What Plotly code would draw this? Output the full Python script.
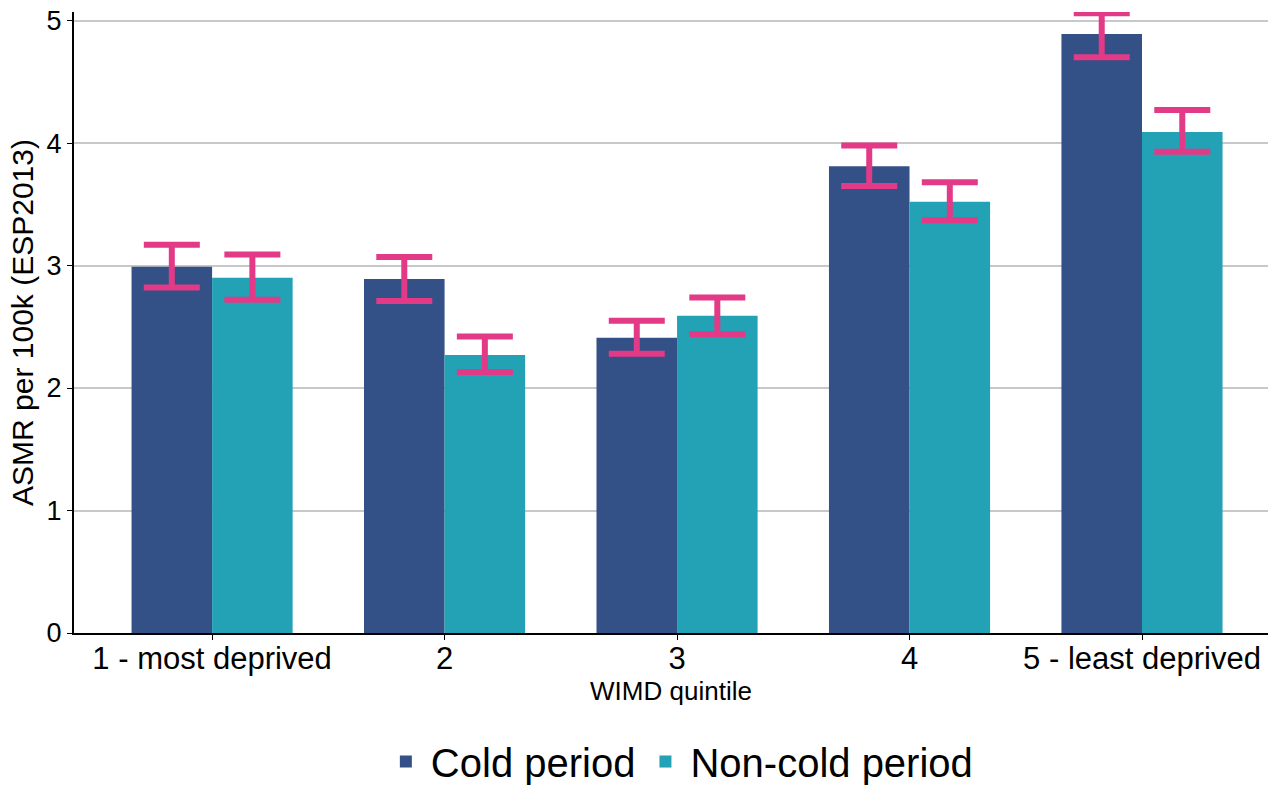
import plotly.graph_objects as go

categories = ["1 - most deprived", "2", "3", "4", "5 - least deprived"]
cold = [2.99, 2.89, 2.41, 3.81, 4.89]
cold_upper = [3.17, 3.07, 2.55, 3.98, 5.06]
cold_lower = [2.82, 2.71, 2.28, 3.65, 4.70]
noncold = [2.90, 2.27, 2.59, 3.52, 4.09]
noncold_upper = [3.09, 2.42, 2.74, 3.68, 4.27]
noncold_lower = [2.72, 2.13, 2.44, 3.37, 3.93]

COLD_COLOR = "#335087"
NONCOLD_COLOR = "#23A2B6"
ERR_COLOR = "#E23A86"


def err(vals, up, lo):
    return dict(type="data", symmetric=False,
                array=[u - v for u, v in zip(up, vals)],
                arrayminus=[v - l for v, l in zip(vals, lo)],
                color=ERR_COLOR, thickness=6, width=28)


fig = go.Figure()
fig.add_trace(go.Bar(name="Cold period", x=categories, y=cold,
                     marker=dict(color=COLD_COLOR, line=dict(width=0)),
                     error_y=err(cold, cold_upper, cold_lower)))
fig.add_trace(go.Bar(name="Non-cold period", x=categories, y=noncold,
                     marker=dict(color=NONCOLD_COLOR, line=dict(width=0)),
                     error_y=err(noncold, noncold_upper, noncold_lower)))

fig.update_layout(
    width=1269, height=785,
    barmode="group", bargap=0.307, bargroupgap=0,
    plot_bgcolor="white", paper_bgcolor="white",
    font=dict(family="Liberation Sans, Arial, sans-serif", color="black"),
    margin=dict(l=74, r=1, t=12, b=151.5, autoexpand=False),
    xaxis=dict(range=[-0.594, 4.542], showline=True, linecolor="black", linewidth=2,
               ticks="outside", ticklen=5, tickcolor="black", tickwidth=1,
               tickfont=dict(size=31), showgrid=False, automargin=False,
               ticklabelstandoff=-8,
               title=dict(text="WIMD quintile", font=dict(size=26), standoff=0)),
    yaxis=dict(range=[0, 5.07], showline=True, linecolor="black", linewidth=2,
               ticks="outside", ticklen=5, tickcolor="black", tickwidth=1,
               tickvals=[0, 1, 2, 3, 4, 5], tickfont=dict(size=27),
               ticklabeloverflow="allow",
               showgrid=True, gridcolor="#C8C8C8", gridwidth=2, zeroline=False,
               automargin=False,
               title=dict(text="ASMR per 100k (ESP2013)", font=dict(size=30), standoff=4)),
    legend=dict(orientation="h", x=0.507, xanchor="center", y=-0.207, yanchor="middle",
                font=dict(size=40), itemwidth=40, traceorder="normal"),
    showlegend=True,
)

fig.write_html(
    "out.html",
    config={"displayModeBar": False},
    post_script="document.body.style.margin='0px';document.body.style.overflow='hidden';",
)
